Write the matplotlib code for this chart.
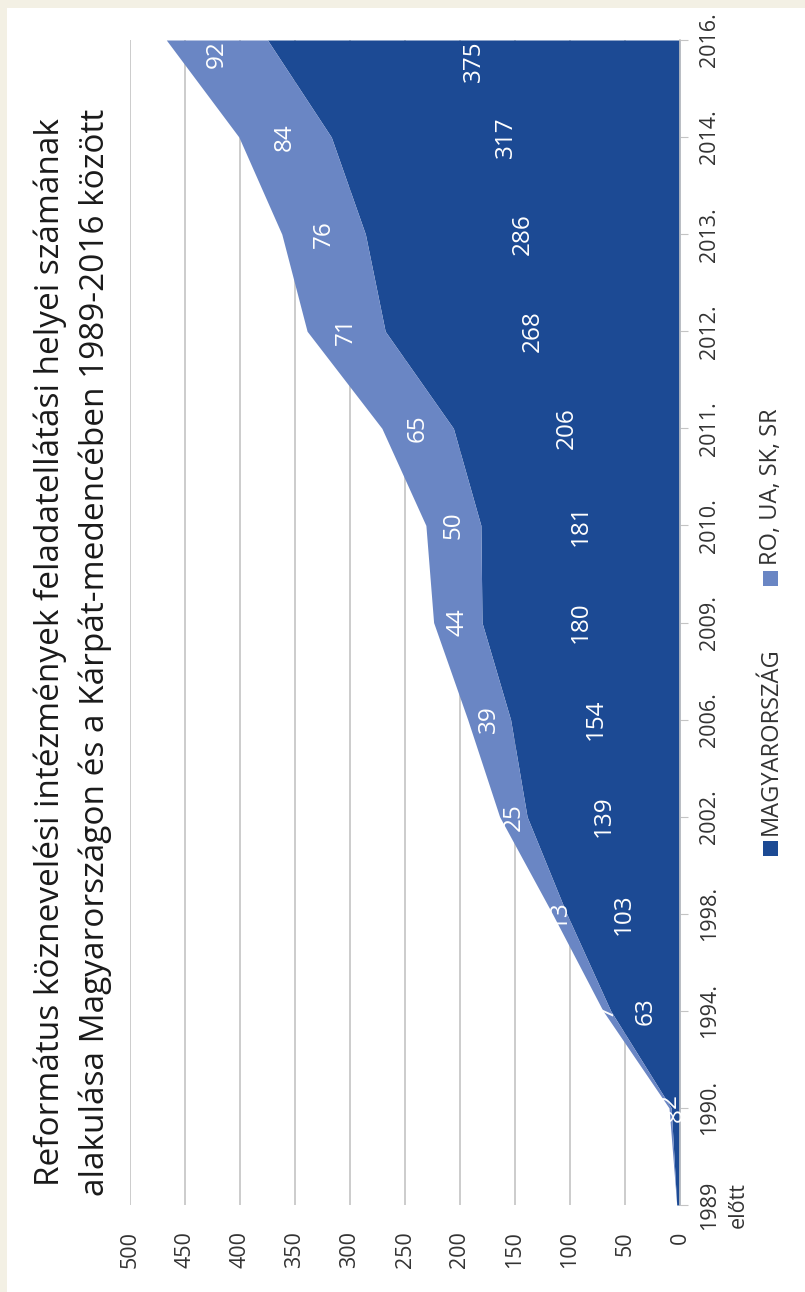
import matplotlib.pyplot as plt
from matplotlib.patches import Rectangle

categories = ["1989\nelőtt", "1990.", "1994.", "1998.", "2002.", "2006.", "2009.",
              "2010.", "2011.", "2012.", "2013.", "2014.", "2016."]
magyarorszag = [3, 8, 63, 103, 139, 154, 180, 181, 206, 268, 286, 317, 375]
kulfold = [0, 2, 7, 13, 25, 39, 44, 50, 65, 71, 76, 84, 92]
value_ticks = [0, 50, 100, 150, 200, 250, 300, 350, 400, 450, 500]
series_names = ["MAGYARORSZÁG", "RO, UA, SK, SR"]
title_lines = ["Református köznevelési intézmények feladatellátási helyei számának",
               "alakulása Magyarországon és a Kárpát-medencében 1989-2016 között"]

DARK = "#1c4a94"
LIGHT = "#6a86c4"
BEIGE = "#f3f0e4"
TXT = "#333333"

plt.rcParams['font.family'] = ['Open Sans', 'DejaVu Sans']


def main():
    W, H = 805, 1292
    fig = plt.figure(figsize=(W / 100, H / 100), dpi=100, facecolor=BEIGE)
    # white panel, beige strip only on top and left
    fig.patches.append(Rectangle((7 / W, 0), 1 - 7 / W, (H - 8) / H, transform=fig.transFigure,
                                 facecolor="white", edgecolor="none", zorder=-10))

    # axes: value axis runs right->left, categories bottom->top (chart turned 90 deg)
    ax = fig.add_axes([130 / W, (H - 1205) / H, 550 / W, 1165 / H])
    ax.set_facecolor("none")
    y = list(range(len(categories)))
    total = [a + b for a, b in zip(magyarorszag, kulfold)]
    ax.fill_betweenx(y, 0, magyarorszag, color=DARK, lw=0, zorder=2)
    ax.fill_betweenx(y, magyarorszag, total, color=LIGHT, lw=0, zorder=2)

    ax.set_xlim(500, 0)
    ax.set_ylim(0, len(categories) - 1)
    ax.set_xticks(value_ticks)
    ax.set_xticklabels([str(v) for v in value_ticks], rotation=90, fontsize=15.5, color=TXT)
    ax.tick_params(axis="x", length=0, pad=19)
    ax.xaxis.grid(True, color="#c4c4c4", lw=1.2, zorder=1)
    ax.set_axisbelow(True)

    ax.yaxis.tick_right()
    ax.set_yticks(y)
    ax.set_yticklabels(categories, rotation=90, fontsize=15.5, color=TXT,
                       va="center", ha="left", multialignment="center", linespacing=1.45)
    ax.tick_params(axis="y", length=6, color="#c4c4c4", pad=8)
    for side in ["top", "bottom", "left"]:
        ax.spines[side].set_visible(False)
    ax.spines["right"].set_color("#c4c4c4")
    ax.spines["right"].set_linewidth(1.2)

    # data labels in the middle of each band
    last = len(categories) - 1
    for i in range(1, len(categories)):
        va_hu = va_ro = "top" if i == last else "center"
        if i == 1:  # tiny bands: split the two labels apart
            va_hu, va_ro = "top", "bottom"
        ax.text(magyarorszag[i] / 2, i, str(magyarorszag[i]), rotation=90, color="white",
                fontsize=17.5, ha="center", va=va_hu, zorder=3)
        ax.text(magyarorszag[i] + kulfold[i] / 2, i, str(kulfold[i]), rotation=90, color="white",
                fontsize=17.5, ha="center", va=va_ro, zorder=3)

    # title (rotated)
    fig.text(50 / W, 0.495, title_lines[0], rotation=90, fontsize=24, color="#1a1a1a",
             ha="center", va="center")
    fig.text(95 / W, 0.495, title_lines[1], rotation=90, fontsize=24, color="#1a1a1a",
             ha="center", va="center")

    # legend drawn by hand so it can be turned too
    for name, col, ybot in zip(series_names, [DARK, LIGHT], [848, 578]):
        fig.patches.append(Rectangle((763 / W, (H - ybot - 8) / H), 15 / W, 15 / H,
                                     transform=fig.transFigure, facecolor=col, edgecolor="none"))
        fig.text(771 / W, (H - ybot + 13) / H, name, rotation=90, fontsize=17, color=TXT,
                 ha="center", va="bottom")

    fig.savefig("out.png", dpi=100, facecolor=fig.get_facecolor())


if __name__ == '__main__':
    main()
